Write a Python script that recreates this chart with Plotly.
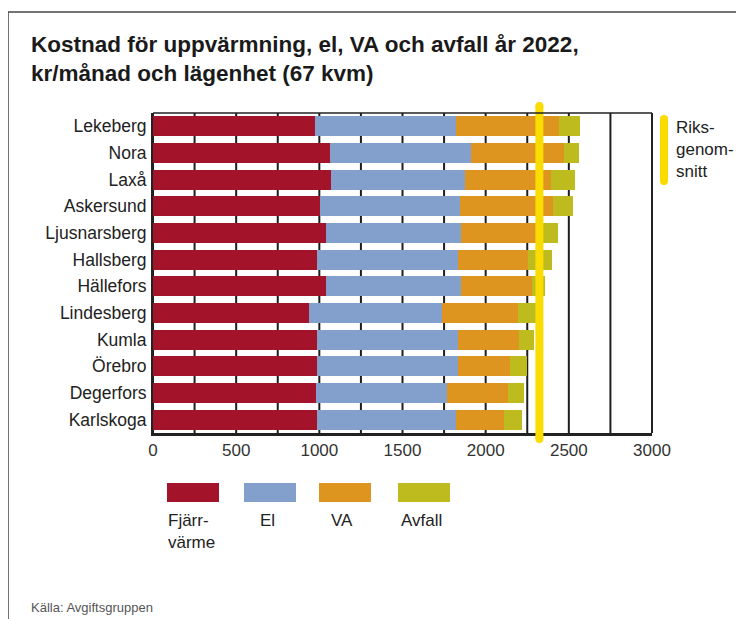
import plotly.graph_objects as go

kommuner = ["Lekeberg", "Nora", "Laxå", "Askersund", "Ljusnarsberg", "Hallsberg",
            "Hällefors", "Lindesberg", "Kumla", "Örebro", "Degerfors", "Karlskoga"]
fjarrvarme = [974, 1064, 1070, 1004, 1040, 986, 1040, 938, 986, 986, 980, 986]
el = [848, 846, 804, 842, 810, 848, 810, 799, 848, 848, 786, 836]
va = [619, 561, 519, 557, 480, 420, 429, 457, 366, 312, 368, 288]
avfall = [126, 90, 142, 120, 103, 145, 76, 106, 91, 101, 96, 108]
riksgenomsnitt = 2323

series_names = ["Fjärr-<br>värme", "El", "VA", "Avfall"]
series_values = [fjarrvarme, el, va, avfall]
colors = ["#A3142B", "#82A0CB", "#DE951F", "#BEBB1F"]
yellow = "#FADC00"

x_labels = [0, 500, 1000, 1500, 2000, 2500, 3000]
x_max = 3000
grid_step = 250

# reference-image pixel geometry (page body has an 8px margin)
OFF = 8
W, H = 744, 619
L, R, T, B = 153, 652, 113, 433


def px(x):
    return (x - L) / (R - L)


def py(y):
    return (B - y) / (B - T)


fig = go.Figure()
for name, vals, col in zip(series_names, series_values, colors):
    fig.add_trace(go.Bar(
        y=kommuner, x=vals, orientation="h", name=name.replace("<br>", ""),
        marker=dict(color=col, line=dict(width=0)), showlegend=False,
        hoverinfo="x+y",
    ))

font = "Liberation Sans, Arial, sans-serif"
shapes = []
annotations = []

grid_vals = list(range(0, x_max + 1, grid_step))
grid_text = [str(v) if v in x_labels else "" for v in grid_vals]

# vertical grid lines, drawn beneath the bars
for gv in grid_vals:
    shapes.append(dict(type="line", xref="x", yref="paper", x0=gv, x1=gv, y0=0, y1=1,
                       line=dict(color="#1e1e1e", width=2), layer="below"))

# national average line (x in data units, y in paper units)
avg_top, avg_bot = 106, 439
shapes.append(dict(type="line", xref="x", yref="paper",
                   x0=riksgenomsnitt, x1=riksgenomsnitt, y0=py(avg_bot), y1=py(avg_top),
                   line=dict(color=yellow, width=8), layer="above"))
for yy in (avg_top, avg_bot):
    shapes.append(dict(type="circle", xref="x", yref="paper", xsizemode="pixel",
                       xanchor=riksgenomsnitt, x0=-4, x1=4,
                       y0=py(yy + 4), y1=py(yy - 4),
                       fillcolor=yellow, line=dict(width=0), layer="above"))

# outer frame (top + left)
shapes.append(dict(type="line", xref="paper", yref="paper", x0=px(8), x1=px(W + 5),
                   y0=py(12), y1=py(12), line=dict(color="#444", width=1.5)))
shapes.append(dict(type="line", xref="paper", yref="paper", x0=px(8), x1=px(8),
                   y0=py(12), y1=py(H + 5), line=dict(color="#444", width=1.5)))
# plot frame top and right
shapes.append(dict(type="line", xref="paper", yref="paper", x0=0, x1=1, y0=1, y1=1,
                   line=dict(color="#222", width=1.5)))
shapes.append(dict(type="line", xref="paper", yref="paper", x0=1, x1=1, y0=0, y1=1,
                   line=dict(color="#222", width=2)))

# legend boxes
box_x = [167, 244, 319, 398]
for i, (name, col) in enumerate(zip(series_names, colors)):
    x0 = box_x[i]
    shapes.append(dict(type="rect", xref="paper", yref="paper",
                       x0=px(x0), x1=px(x0 + 52), y0=py(502), y1=py(483),
                       fillcolor=col, line=dict(width=0)))
    if i == 0:
        annotations.append(dict(xref="paper", yref="paper", x=px(x0 - 1), y=py(509),
                                xanchor="left", yanchor="top", align="left",
                                text=name, showarrow=False,
                                font=dict(size=17, color="#222", family=font)))
    else:
        annotations.append(dict(xref="paper", yref="paper", x=px(x0 + 23), y=py(509),
                                xanchor="center", yanchor="top", align="center",
                                text=name, showarrow=False,
                                font=dict(size=17, color="#222", family=font)))

# Riksgenomsnitt legend
shapes.append(dict(type="line", xref="paper", yref="paper", x0=px(664), x1=px(664),
                   y0=py(119), y1=py(181), line=dict(color=yellow, width=8)))
for yy in (119, 181):
    shapes.append(dict(type="circle", xref="paper", yref="paper",
                       x0=px(660), x1=px(668), y0=py(yy + 4), y1=py(yy - 4),
                       fillcolor=yellow, line=dict(width=0)))
annotations.append(dict(xref="paper", yref="paper", x=px(674), y=py(116),
                        xanchor="left", yanchor="top", align="left",
                        text="Riks-<br>genom-<br>snitt", showarrow=False,
                        font=dict(size=17, color="#222", family=font)))

# title
annotations.append(dict(xref="paper", yref="paper", x=px(29), y=py(30),
                        xanchor="left", yanchor="top", align="left",
                        text="<b>Kostnad för uppvärmning, el, VA och avfall år 2022,<br>kr/månad och lägenhet (67 kvm)</b>",
                        showarrow=False,
                        font=dict(size=22.5, color="#1a1a1a", family=font)))
# source
annotations.append(dict(xref="paper", yref="paper", x=px(29), y=py(607),
                        xanchor="left", yanchor="middle", align="left",
                        text="Källa: Avgiftsgruppen", showarrow=False,
                        font=dict(size=13, color="#555", family=font)))

fig.update_layout(
    width=W - OFF, height=H - OFF,
    margin=dict(l=L - OFF, r=W - R, t=T - OFF, b=H - B, pad=0),
    paper_bgcolor="white", plot_bgcolor="white",
    barmode="stack", bargap=0.26,
    showlegend=False,
    xaxis=dict(range=[0, x_max], tickmode="array", tickvals=grid_vals, ticktext=grid_text,
               showgrid=False,
               showline=True, linecolor="#222", linewidth=3,
               ticks="", zeroline=False, fixedrange=True,
               tickfont=dict(size=17, color="#333", family=font)),
    yaxis=dict(categoryorder="array", categoryarray=kommuner, autorange="reversed",
               showline=True, linecolor="#222", linewidth=2, showgrid=False,
               ticks="", ticklabelstandoff=1, fixedrange=True,
               tickfont=dict(size=17.5, color="#222", family=font)),
    shapes=shapes,
    annotations=annotations,
)

fig.write_html("out.html")
